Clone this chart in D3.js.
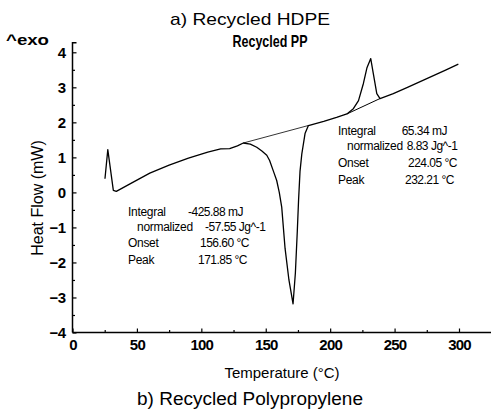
<!DOCTYPE html>
<html><head><meta charset="utf-8">
<script src="https://cdn.jsdelivr.net/npm/d3@7"></script>
<style>
html,body{margin:0;padding:0;background:#fff;}
svg{display:block;}
text{font-family:"Liberation Sans",Arial,sans-serif;fill:#000;}
</style></head>
<body>
<svg id="c" width="491" height="409"></svg>
<script>
// ---- data ----
const curveT = [25.2,27.4,31.7,34,45,60,75,90,105,115,122,128,132.6,138,143,147,150.8,153,156,158.5,160.5,162.4,165,168,171.2,173,174.5,175.5,176.6,178,180.5,183.1,195,205,213,218,222,225.8,228.5,231.5,233.5,236.2,238.7,249,260,275,290,299.5];
const curveHF = [0.39,1.22,0.06,0.03,0.25,0.55,0.78,0.98,1.15,1.24,1.25,1.33,1.41,1.38,1.29,1.18,1.06,0.91,0.6,0.34,0.0,-0.42,-1.6,-2.5,-3.18,-2.3,-1.1,-0.2,0.6,1.1,1.68,1.91,2.03,2.14,2.24,2.39,2.62,3.11,3.55,3.82,3.39,2.82,2.68,2.82,3.0,3.25,3.5,3.66];
const baseEndoT = [132.6,183.1];
const baseEndoHF = [1.41,1.91];
const baseExoT = [213,238.7];
const baseExoHF = [2.24,2.68];
const xTicks = [0,50,100,150,200,250,300];
const xMinor = [25,75,125,175,225,275,325];
const yTicks = [-4,-3,-2,-1,0,1,2,3,4];
const yMinor = [-3.5,-2.5,-1.5,-0.5,0.5,1.5,2.5,3.5];
const annoEndo = [["Integral","-425.88 mJ"],["   normalized","-57.55 Jg^-1"],["Onset","156.60 °C"],["Peak","171.85 °C"]];
const annoExo = [["Integral","65.34 mJ"],["   normalized","8.83 Jg^-1"],["Onset","224.05 °C"],["Peak","232.21 °C"]];

const svg = d3.select("#c");
const x = d3.scaleLinear().domain([0,325]).range([72.5,491.2]);
const y = d3.scaleLinear().domain([-4,4]).range([332.5,52.3]);

// axes
const gx = svg.append("g").attr("transform",`translate(0,${y(-4)})`)
  .call(d3.axisBottom(x).tickValues(xTicks).tickSize(-4).tickSizeOuter(0).tickPadding(7).tickFormat(d3.format("d")));
gx.select(".domain").remove();
svg.append("line").attr("x1",x(0)).attr("x2",x(325)).attr("y1",y(-4)).attr("y2",y(-4)).attr("stroke","#000").attr("stroke-width",1.5);
const gxm = svg.append("g").attr("transform",`translate(0,${y(-4)})`)
  .call(d3.axisBottom(x).tickValues(xMinor).tickSize(-2.5).tickSizeOuter(0).tickFormat(""));
gxm.select(".domain").remove();

const gy = svg.append("g").attr("transform",`translate(${x(0)},0)`)
  .call(d3.axisLeft(y).tickValues(yTicks).tickSize(-4).tickSizeOuter(0).tickPadding(7).tickFormat(d3.format("d")));
gy.select(".domain").remove();
const gym = svg.append("g").attr("transform",`translate(${x(0)},0)`)
  .call(d3.axisLeft(y).tickValues(yMinor).tickSize(-2.5).tickSizeOuter(0).tickFormat(""));
gym.select(".domain").remove();
svg.append("path").attr("d",`M${x(0)+4},${y(4.27)}H${x(0)}V${y(-4)}`).attr("fill","none").attr("stroke","#000").attr("stroke-width",1.5);

svg.selectAll(".tick line").attr("stroke","#000").attr("stroke-width",1.2);
gx.selectAll("text").style("font-size","15px").style("letter-spacing","-0.8px").style("font-weight","600").attr("font-family",null);
gy.selectAll("text").style("font-size","15px").style("letter-spacing","-0.5px").style("font-weight","600").attr("font-family",null);

// curve & baselines
const line = d3.line().x(d=>x(d[0])).y(d=>y(d[1]));
svg.append("path").datum(curveT.map((t,i)=>[t,curveHF[i]])).attr("d",line)
  .attr("fill","none").attr("stroke","#000").attr("stroke-width",1.3).attr("stroke-linejoin","round");
svg.append("path").datum(baseEndoT.map((t,i)=>[t,baseEndoHF[i]])).attr("d",line)
  .attr("fill","none").attr("stroke","#000").attr("stroke-width",0.8);
svg.append("path").datum(baseExoT.map((t,i)=>[t,baseExoHF[i]])).attr("d",line)
  .attr("fill","none").attr("stroke","#000").attr("stroke-width",1);

// titles
svg.append("text").attr("x",250).attr("y",25).attr("text-anchor","middle").style("font-size","17px")
  .attr("textLength",160).attr("lengthAdjust","spacingAndGlyphs").text("a) Recycled HDPE");
svg.append("text").attr("x",270).attr("y",47).attr("text-anchor","middle").style("font-size","16.5px").style("font-weight","bold")
  .attr("textLength",75).attr("lengthAdjust","spacingAndGlyphs").text("Recycled PP");
svg.append("text").attr("x",6).attr("y",45).style("font-size","15px").style("font-weight","bold")
  .attr("textLength",43).attr("lengthAdjust","spacingAndGlyphs").text("^exo");
svg.append("text").attr("x",282).attr("y",378).attr("text-anchor","middle").style("font-size","15px")
  .text("Temperature (°C)");
svg.append("text").attr("x",250).attr("y",405).attr("text-anchor","middle").style("font-size","18px")
  .attr("textLength",226).attr("lengthAdjust","spacingAndGlyphs").text("b) Recycled Polypropylene");
svg.append("text").attr("transform","translate(43,198) rotate(-90)").attr("text-anchor","middle").style("font-size","16px")
  .text("Heat Flow (mW)");

// annotations
function anno(rows, x1, xs2, ys){
  rows.forEach((r,i)=>{
    svg.append("text").attr("x",x1).attr("y",ys[i]).style("font-size","12px").style("letter-spacing","-0.3px").style("white-space","pre").attr("xml:space","preserve").text(r[0]);
    svg.append("text").attr("x",xs2[i]).attr("y",ys[i]).style("font-size","12px").style("letter-spacing","-0.5px").text(r[1]);
  });
}
anno(annoEndo,128,[188,205,200,198],[216,231,247,264]);
anno(annoExo,338,[401.7,406.7,408,405],[135,150,167,184]);
</script>
</body></html>
